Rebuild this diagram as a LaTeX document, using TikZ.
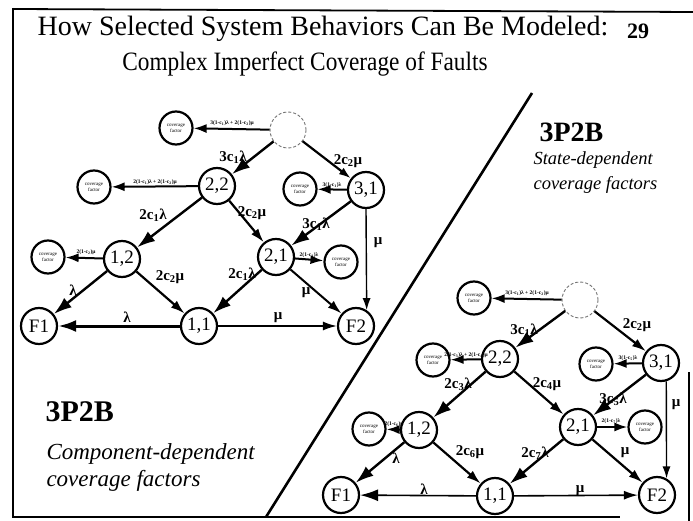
\documentclass[tikz,border=0pt]{standalone}
\usepackage{fontspec}
\setmainfont{Liberation Serif}
\usetikzlibrary{arrows.meta}

\tikzset{
  st/.style={circle, draw, line width=2.2pt, minimum size=36pt, inner sep=0pt,
    font=\fontsize{19}{19}\selectfont},
  ghost/.style={circle, draw=black!55, line width=0.9pt,
    dash pattern=on 3pt off 2pt, minimum size=36pt, inner sep=0pt},
  cov/.style={circle, draw, line width=2.2pt, minimum size=33pt, inner sep=0pt,
    align=center, font=\fontsize{5}{5.5}\selectfont},
  big/.style={line width=2.4pt, -{Latex[length=18pt,width=12pt]}},
  mid/.style={line width=2.2pt, -{Latex[length=14pt,width=9pt]}},
  lite/.style={line width=1.4pt, -{Latex[length=12pt,width=8pt]}},
  covarrow/.style={line width=2pt, -{Latex[length=13pt,width=9pt]}},
  lab/.style={font=\fontsize{15}{15}\selectfont\bfseries, inner sep=0pt},
  tiny/.style={font=\fontsize{5.5}{6}\selectfont\bfseries, inner sep=0pt},
  frame/.style={line width=1.8pt},
}
\newcommand\sbx[1]{\textsubscript{#1}}

\begin{document}
\begin{tikzpicture}[x=1pt, y=-1pt]
\useasboundingbox (0,0) rectangle (693,521);

% slide frame
\draw[frame] (13,8) -- (13,517) -- (620,517);
\draw[frame] (13,9) -- (693,12);
\draw[frame] (689,372) -- (689,521);

% title
\node[anchor=base, font=\fontsize{28}{29}\selectfont] (t1) at (323,36)
  {How Selected System Behaviors Can Be Modeled:};
\node[anchor=base, xscale=0.88, font=\fontsize{26.5}{27}\selectfont] (t2) at (305,71)
  {Complex Imperfect Coverage of Faults};
\node[anchor=base, font=\fontsize{22}{22}\selectfont\bfseries] (pg) at (638,39) {29};

% divider between the two models
\coordinate (d1) at (532,93);
\coordinate (d2) at (266,517);
\draw[line width=2.6pt] (d1) -- (d2);

% captions
\node[anchor=base west, font=\fontsize{30}{30}\selectfont\bfseries] (capL) at (42,421) {3P2B};
\node[anchor=base west, font=\fontsize{23}{23}\selectfont\itshape] (capL2) at (43,459) {Component-dependent};
\node[anchor=base west, font=\fontsize{23}{23}\selectfont\itshape] (capL3) at (43,486) {coverage factors};
\node[anchor=base west, font=\fontsize{28}{28}\selectfont\bfseries] (capR) at (536,142) {3P2B};
\node[anchor=base west, font=\fontsize{18.5}{18.5}\selectfont\itshape] (capR2) at (530,165) {State-dependent};
\node[anchor=base west, font=\fontsize{18.5}{18.5}\selectfont\itshape] (capR3) at (530,190) {coverage factors};

% ---------- component-dependent model ----------
\node[ghost] (A32) at (288,130) {};
\node[cov] (Ac32) at (176,128) {coverage\\factor};
\node[st] (A22) at (217,186) {2,2};
\node[cov] (Ac22) at (94,187) {coverage\\factor};
\node[st] (A31) at (366,190) {3,1};
\node[cov] (Ac31) at (300,189) {coverage\\factor};
\node[st] (A12) at (122,259) {1,2};
\node[cov] (Ac12) at (48,257) {coverage\\factor};
\node[st] (A21) at (276,257) {2,1};
\node[cov] (Ac21) at (341,262) {coverage\\factor};
\node[st] (AF1) at (39,326) {F1};
\node[st] (A11) at (199,326) {1,1};
\node[st] (AF2) at (356,326) {F2};

\draw[covarrow] (A32) -- (Ac32) node[tiny] at (232,123) {3(1-c\sbx{1})λ + 2(1-c\sbx{2})μ};
\draw[big] (A32) -- (A22) node[lab] at (233,157) {3c\sbx{1}λ};
\draw[lite, line width=2.2pt] (A32) -- (A31) node[lab] at (348,161) {2c\sbx{2}μ};
\draw[covarrow] (A22) -- (Ac22) node[tiny] at (155,182) {2(1-c\sbx{1})λ + 2(1-c\sbx{2})μ};
\draw[big] (A22) -- (A12) node[lab] at (153,215) {2c\sbx{1}λ};
\draw[mid] (A22) -- (A21) node[lab] at (252,213) {2c\sbx{2}μ};
\draw[covarrow] (A31) -- (Ac31) node[tiny] at (332,185) {3(1-c\sbx{1})λ};
\draw[big] (A31) -- (A21) node[lab] at (316,224) {3c\sbx{1}λ};
\draw[lite] (A31.south) -- (AF2.56) node[lab] at (378,243) {μ};
\draw[covarrow] (A12) -- (Ac12) node[tiny] at (86,252) {2(1-c\sbx{2})μ};
\draw[big] (A12) -- (AF1) node[lab] at (73,290) {λ};
\draw[mid] (A12) -- (A11) node[lab] at (170,277) {2c\sbx{2}μ};
\draw[covarrow] (A21) -- (Ac21) node[tiny] at (309,255) {2(1-c\sbx{1})λ};
\draw[big] (A21) -- (A11) node[lab] at (242,274) {2c\sbx{1}λ};
\draw[mid, line width=2pt] (A21) -- (AF2) node[lab] at (306,293) {μ};
\draw[big, line width=3pt] (A11) -- (AF1) node[lab] at (127,317) {λ};
\draw[mid, line width=1.8pt] (A11) -- (AF2) node[lab] at (278,318) {μ};

% ---------- state-dependent model ----------
\node[ghost] (B32) at (580,300) {};
\node[cov] (Bc32) at (474,298) {coverage\\factor};
\node[st] (B22) at (500,359) {2,2};
\node[cov] (Bc22) at (433,360) {coverage\\factor};
\node[st] (B31) at (661,363) {3,1};
\node[cov] (Bc31) at (596,364) {coverage\\factor};
\node[st] (B12) at (419,430) {1,2};
\node[cov] (Bc12) at (369,429) {coverage\\factor};
\node[st] (B21) at (578,427) {2,1};
\node[cov] (Bc21) at (645,427) {coverage\\factor};
\node[st] (BF1) at (341,495) {F1};
\node[st] (B11) at (495,496) {1,1};
\node[st] (BF2) at (657,495) {F2};

\draw[covarrow] (B32) -- (Bc32) node[tiny] at (527,293) {3(1-c\sbx{1})λ + 2(1-c\sbx{2})μ};
\draw[big] (B32) -- (B22) node[lab] at (524,330) {3c\sbx{1}λ};
\draw[mid] (B32) -- (B31) node[lab] at (637,325) {2c\sbx{2}μ};
\draw[covarrow] (B22) -- (Bc22) node[tiny] at (466,355) {2(1-c\sbx{3})λ + 2(1-c\sbx{4})μ};
\draw[big] (B22) -- (B12) node[lab] at (458,384) {2c\sbx{3}λ};
\draw[mid] (B22) -- (B21) node[lab] at (547,384) {2c\sbx{4}μ};
\draw[covarrow] (B31) -- (Bc31) node[tiny] at (628,358) {3(1-c\sbx{5})λ};
\draw[big] (B31) -- (B21) node[lab] at (613,399) {3c\sbx{5}λ};
\draw[lite] (B31.-74) -- (BF2.60) node[lab] at (676,405) {μ};
\draw[covarrow] (B12) -- (Bc12) node[tiny] at (394,424) {2(1-c\sbx{6})μ};
\draw[big] (B12) -- (BF1) node[lab] at (396,458) {λ};
\draw[mid] (B12) -- (B11) node[lab] at (470,452) {2c\sbx{6}μ};
\draw[covarrow] (B21) -- (Bc21) node[tiny] at (611,421) {2(1-c\sbx{7})λ};
\draw[big] (B21) -- (B11) node[lab] at (535,453) {2c\sbx{7}λ};
\draw[mid] (B21) -- (BF2) node[lab] at (625,453) {μ};
\draw[big, line width=1.6pt] (B11) -- (BF1) node[lab] at (424,489) {λ};
\draw[mid, line width=1.6pt] (B11) -- (BF2) node[lab] at (580,491) {μ};
\end{tikzpicture}
\end{document}
